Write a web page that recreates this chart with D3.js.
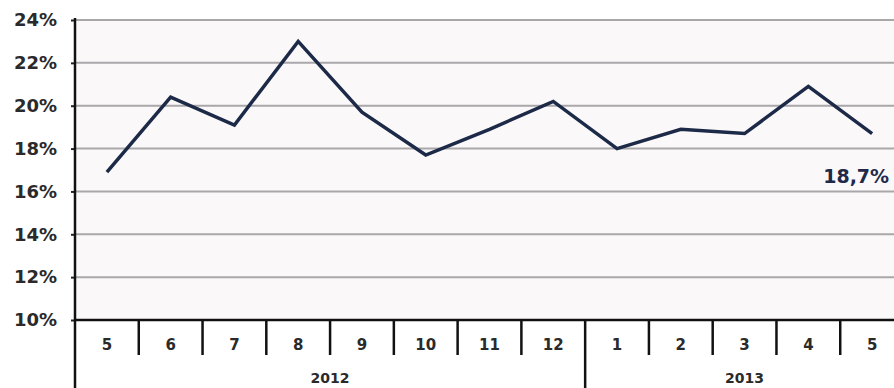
<!DOCTYPE html>
<html>
<head>
<meta charset="utf-8">
<script src="https://cdn.jsdelivr.net/npm/d3@7"></script>
<style>
  body { margin: 0; background: #fff; }
  svg { display: block; font-family: "DejaVu Sans", Verdana, sans-serif; }
</style>
</head>
<body>
<svg id="chart" width="894" height="388"></svg>
<script>
const months = ["5", "6", "7", "8", "9", "10", "11", "12", "1", "2", "3", "4", "5"]
const years = [{label: "2012", count: 8}, {label: "2013", count: 5}]
const values = [16.9, 20.4, 19.1, 23.0, 19.7, 17.7, 18.9, 20.2, 18.0, 18.9, 18.7, 20.9, 18.7]
const yTicks = [10, 12, 14, 16, 18, 20, 22, 24]
const lastLabel = "18,7%"

const margin = {top: 20, left: 75, bottom: 68}
const width = 904
const height = 388

const svg = d3.select('#chart')

const x = d3.scaleBand()
  .domain(d3.range(months.length))
  .range([margin.left, width])
  .padding(0)

const y = d3.scaleLinear()
  .domain([10, 24])
  .range([height - margin.bottom, margin.top])

// plot background
svg.append('rect')
  .attr('x', margin.left)
  .attr('y', y(24))
  .attr('width', width - margin.left)
  .attr('height', y(10) - y(24))
  .attr('fill', '#fbf8f9')

// grid lines
svg.append('g')
  .selectAll('line')
  .data(yTicks.filter(d => d > 10))
  .join('line')
    .attr('x1', margin.left)
    .attr('x2', width)
    .attr('y1', d => y(d))
    .attr('y2', d => y(d))
    .attr('stroke', '#a9a7a9')
    .attr('stroke-width', 2)

// y axis
const yAxis = svg.append('g')
  .attr('transform', 'translate(' + margin.left + ',0)')
  .call(d3.axisLeft(y).tickValues(yTicks).tickSize(4).tickPadding(14).tickFormat(d => d + '%'))
yAxis.select('.domain').remove()
yAxis.selectAll('.tick line').attr('stroke', '#222').attr('stroke-width', 2)
yAxis.selectAll('.tick text')
  .attr('font-size', 18)
  .attr('font-weight', 'bold')
  .attr('fill', '#2a2a2a')
  .attr('font-family', '"DejaVu Sans", Verdana, sans-serif')

svg.append('line')
  .attr('x1', margin.left).attr('x2', margin.left)
  .attr('y1', y(24) - 2).attr('y2', height)
  .attr('stroke', '#111').attr('stroke-width', 2.5)

// x axis baseline
svg.append('line')
  .attr('x1', margin.left).attr('x2', width)
  .attr('y1', y(10)).attr('y2', y(10))
  .attr('stroke', '#111').attr('stroke-width', 2.5)

// month separators
const yearStarts = []
let acc = 0
years.forEach(yr => { yearStarts.push(acc); acc += yr.count })

svg.append('g')
  .selectAll('line')
  .data(d3.range(1, months.length))
  .join('line')
    .attr('x1', i => x(i))
    .attr('x2', i => x(i))
    .attr('y1', y(10))
    .attr('y2', i => yearStarts.includes(i) ? height : y(10) + 35)
    .attr('stroke', '#111')
    .attr('stroke-width', 2.5)

// month labels
svg.append('g')
  .selectAll('text')
  .data(months)
  .join('text')
    .attr('x', (d, i) => x(i) + x.bandwidth() / 2)
    .attr('y', y(10) + 30)
    .attr('text-anchor', 'middle')
    .attr('font-size', 15)
    .attr('font-weight', 'bold')
    .attr('fill', '#2a2a2a')
    .text(d => d)

// year labels
svg.append('g')
  .selectAll('text')
  .data(years)
  .join('text')
    .attr('x', (d, i) => (x(yearStarts[i]) + x(yearStarts[i] + d.count - 1) + x.bandwidth()) / 2)
    .attr('y', height - 5)
    .attr('text-anchor', 'middle')
    .attr('font-size', 14)
    .attr('font-weight', 'bold')
    .attr('fill', '#2a2a2a')
    .text(d => d.label)

// the line
svg.append('path')
  .datum(values)
  .attr('fill', 'none')
  .attr('stroke', '#1c2a48')
  .attr('stroke-width', 3.5)
  .attr('stroke-linejoin', 'miter')
  .attr('d', d3.line()
    .x((d, i) => x(i) + x.bandwidth() / 2)
    .y(d => y(d)))

// last value label
const li = values.length - 1
svg.append('text')
  .attr('x', x(li) + x.bandwidth() / 2 + 17)
  .attr('y', y(values[li]) + 49)
  .attr('text-anchor', 'end')
  .attr('font-size', 19)
  .attr('font-weight', 'bold')
  .attr('fill', '#1f2a4a')
  .text(lastLabel)
</script>
</body>
</html>
